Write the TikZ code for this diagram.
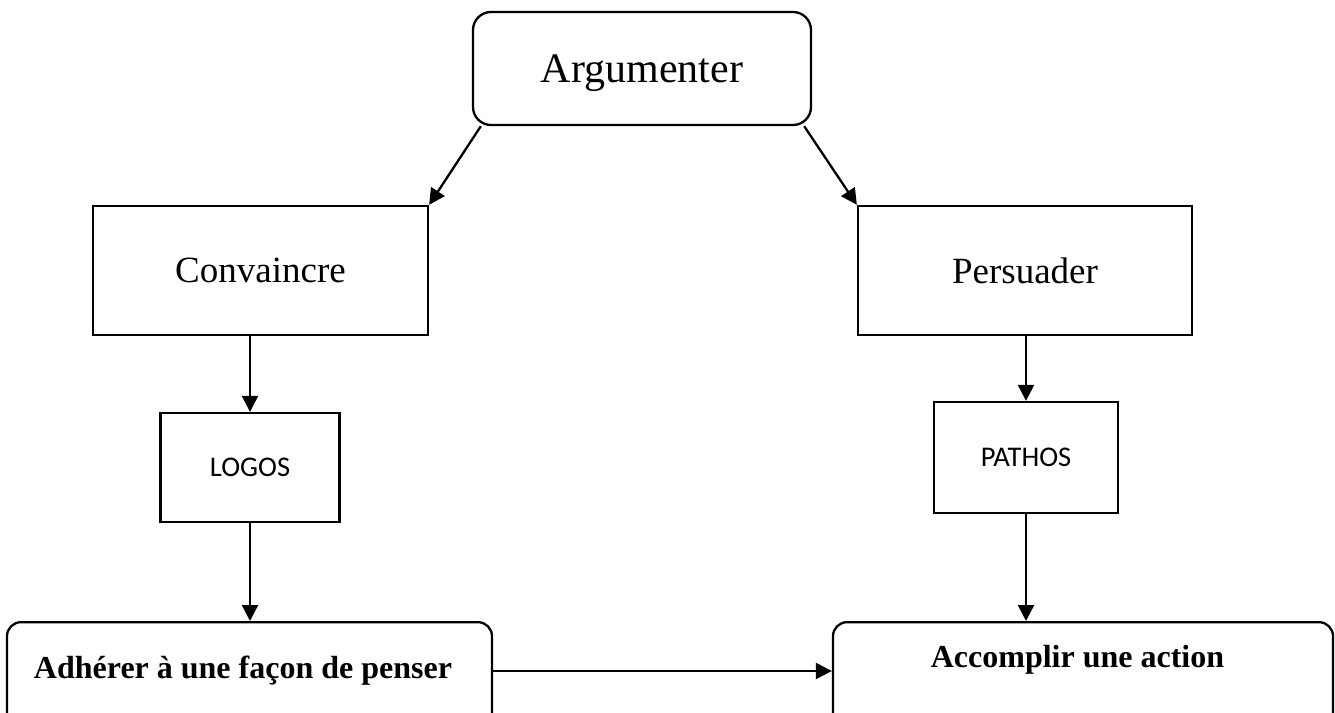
\documentclass[tikz,border=0pt]{standalone}
\usepackage{fontspec}
\setmainfont{Liberation Serif}
\newfontfamily\calfont{Carlito}
\usetikzlibrary{arrows.meta,calc}
\tikzset{
  box/.style={draw=black,line width=2.3pt,rectangle,inner sep=0pt},
  rbox/.style={box,rounded corners=14pt},
  arr/.style={line width=2.3pt,-{Triangle[length=16pt,width=16pt]}},
  bigtxt/.style={font=\fontsize{42}{48}\selectfont,text depth=0pt},
  midtxt/.style={font=\fontsize{37}{44}\selectfont,text depth=0pt},
  smalltxt/.style={font=\calfont\fontsize{28.5}{34}\selectfont},
  boldtxt/.style={font=\bfseries\fontsize{32}{38}\selectfont,inner sep=0pt}
}
\begin{document}
\begin{tikzpicture}[x=1pt,y=-1pt]
\path[use as bounding box] (0,0) rectangle (1335,712);
\clip (0,0) rectangle (1335,712);
\node[rbox,bigtxt,minimum width=338pt,minimum height=113pt,rounded corners=18pt] (arg) at (642,68.5) {Argumenter};
\node[box,midtxt,minimum width=335pt,minimum height=129pt] (conv) at (260.5,270.5) {Convaincre};
\node[box,midtxt,minimum width=334pt,minimum height=129pt] (pers) at (1025,270.5) {Persuader};
\node[box,smalltxt,minimum width=179pt,minimum height=109pt] (logos) at (250,467.5) {LOGOS};
\node[box,smalltxt,minimum width=184pt,minimum height=111pt] (pathos) at (1026,457.5) {PATHOS};
\node[rbox,minimum width=485pt,minimum height=130pt,anchor=north] (adh) at (249.5,621) {};
\node[rbox,minimum width=500pt,minimum height=130pt,anchor=north] (acc) at (1083,621) {};
\node[boldtxt] (adhtxt) at (243,671) {Adhérer à une façon de penser};
\node[boldtxt] (acctxt) at (1077.5,660) {Accomplir une action};
\draw[arr] ($(arg.south west)+(9,0)$) -- (conv.north east);
\draw[arr] ($(arg.south east)+(-8,0)$) -- (pers.north west);
\draw[arr] (conv.south -| logos.north) -- (logos.north);
\draw[arr] (logos.south) -- (adh.north -| logos.south);
\draw[arr] (pers.south -| pathos.north) -- (pathos.north);
\draw[arr] (pathos.south) -- (acc.north -| pathos.south);
\coordinate (hy) at (0,671);
\draw[arr] (adh.east |- hy) -- (acc.west |- hy);
\end{tikzpicture}
\end{document}
